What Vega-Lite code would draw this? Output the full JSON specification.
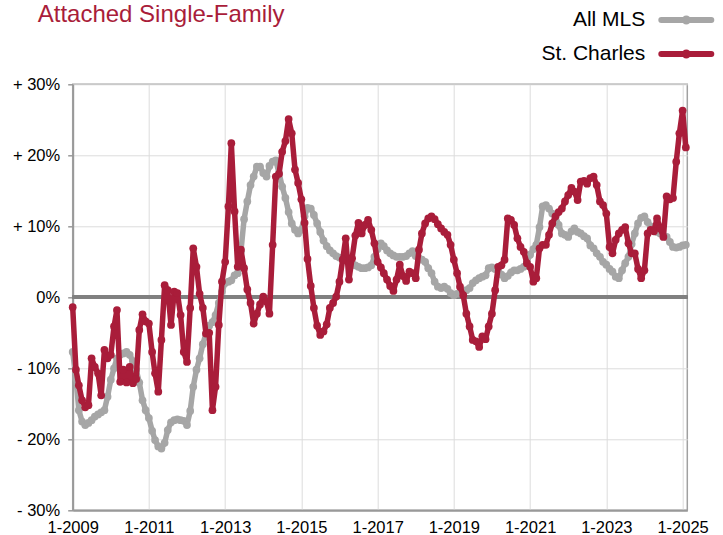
{
  "$schema": "https://vega.github.io/schema/vega-lite/v6.json",
  "width": 614.6,
  "height": 426,
  "autosize": {"type": "none"},
  "padding": {"left": 72.7, "top": 84.3, "right": 35.7, "bottom": 24.7},
  "background": "white",
  "title": {"text": "Attached Single-Family", "anchor": "start", "frame": "group", "dx": -35, "offset": -39, "fontSize": 24, "color": "#A91D3A", "font": "Liberation Sans", "fontWeight": "normal", "baseline": "alphabetic"},
  "config": {
    "view": {"stroke": "#A0A0A0", "strokeWidth": 1.5},
    "font": "Liberation Sans"
  },
  "data": {"values": [
    {"month":"2009-01-01","mls":-7.7,"sc":-1.4},
    {"month":"2009-02-01","mls":-11.4,"sc":-10.2},
    {"month":"2009-03-01","mls":-15.9,"sc":-12.4},
    {"month":"2009-04-01","mls":-17.5,"sc":-14.5},
    {"month":"2009-05-01","mls":-18.0,"sc":-15.5},
    {"month":"2009-06-01","mls":-17.7,"sc":-15.2},
    {"month":"2009-07-01","mls":-17.3,"sc":-8.6},
    {"month":"2009-08-01","mls":-16.8,"sc":-9.8},
    {"month":"2009-09-01","mls":-16.5,"sc":-10.7},
    {"month":"2009-10-01","mls":-16.2,"sc":-13.8},
    {"month":"2009-11-01","mls":-15.9,"sc":-7.4},
    {"month":"2009-12-01","mls":-14.0,"sc":-8.6},
    {"month":"2010-01-01","mls":-11.6,"sc":-8.1},
    {"month":"2010-02-01","mls":-10.0,"sc":-4.1},
    {"month":"2010-03-01","mls":-8.6,"sc":-1.8},
    {"month":"2010-04-01","mls":-8.1,"sc":-11.9},
    {"month":"2010-05-01","mls":-7.9,"sc":-10.2},
    {"month":"2010-06-01","mls":-7.7,"sc":-12.0},
    {"month":"2010-07-01","mls":-8.1,"sc":-9.8},
    {"month":"2010-08-01","mls":-9.0,"sc":-12.1},
    {"month":"2010-09-01","mls":-10.2,"sc":-11.5},
    {"month":"2010-10-01","mls":-12.0,"sc":-4.6},
    {"month":"2010-11-01","mls":-14.5,"sc":-2.4},
    {"month":"2010-12-01","mls":-15.9,"sc":-3.4},
    {"month":"2011-01-01","mls":-17.0,"sc":-3.7},
    {"month":"2011-02-01","mls":-18.8,"sc":-7.7},
    {"month":"2011-03-01","mls":-20.1,"sc":-10.7},
    {"month":"2011-04-01","mls":-21.0,"sc":-13.3},
    {"month":"2011-05-01","mls":-21.3,"sc":-6.0},
    {"month":"2011-06-01","mls":-20.5,"sc":1.7},
    {"month":"2011-07-01","mls":-18.7,"sc":1.0},
    {"month":"2011-08-01","mls":-17.6,"sc":-3.9},
    {"month":"2011-09-01","mls":-17.3,"sc":0.8},
    {"month":"2011-10-01","mls":-17.2,"sc":0.6},
    {"month":"2011-11-01","mls":-17.3,"sc":-2.5},
    {"month":"2011-12-01","mls":-17.4,"sc":-7.7},
    {"month":"2012-01-01","mls":-18.0,"sc":-9.1},
    {"month":"2012-02-01","mls":-16.0,"sc":-1.5},
    {"month":"2012-03-01","mls":-12.6,"sc":6.9},
    {"month":"2012-04-01","mls":-10.2,"sc":4.3},
    {"month":"2012-05-01","mls":-8.6,"sc":0.5},
    {"month":"2012-06-01","mls":-6.6,"sc":-1.5},
    {"month":"2012-07-01","mls":-5.1,"sc":-5.1},
    {"month":"2012-08-01","mls":-4.0,"sc":-5.0},
    {"month":"2012-09-01","mls":-3.5,"sc":-15.9},
    {"month":"2012-10-01","mls":-2.5,"sc":-12.6},
    {"month":"2012-11-01","mls":-0.8,"sc":-3.9},
    {"month":"2012-12-01","mls":0.8,"sc":2.2},
    {"month":"2013-01-01","mls":2.0,"sc":5.0},
    {"month":"2013-02-01","mls":2.2,"sc":12.8},
    {"month":"2013-03-01","mls":2.4,"sc":21.7},
    {"month":"2013-04-01","mls":3.1,"sc":12.1},
    {"month":"2013-05-01","mls":3.4,"sc":4.3},
    {"month":"2013-06-01","mls":6.5,"sc":6.7},
    {"month":"2013-07-01","mls":11.0,"sc":4.1},
    {"month":"2013-08-01","mls":13.5,"sc":1.1},
    {"month":"2013-09-01","mls":15.8,"sc":-0.8},
    {"month":"2013-10-01","mls":17.0,"sc":-3.7},
    {"month":"2013-11-01","mls":18.4,"sc":-2.3},
    {"month":"2013-12-01","mls":18.4,"sc":-1.0},
    {"month":"2014-01-01","mls":17.5,"sc":0.1},
    {"month":"2014-02-01","mls":17.0,"sc":-0.6},
    {"month":"2014-03-01","mls":18.5,"sc":-2.3},
    {"month":"2014-04-01","mls":19.1,"sc":7.4},
    {"month":"2014-05-01","mls":19.3,"sc":17.0},
    {"month":"2014-06-01","mls":17.5,"sc":17.4},
    {"month":"2014-07-01","mls":15.6,"sc":20.5},
    {"month":"2014-08-01","mls":14.0,"sc":22.0},
    {"month":"2014-09-01","mls":12.0,"sc":25.1},
    {"month":"2014-10-01","mls":10.4,"sc":23.1},
    {"month":"2014-11-01","mls":9.5,"sc":18.0},
    {"month":"2014-12-01","mls":9.0,"sc":16.1},
    {"month":"2015-01-01","mls":9.5,"sc":13.8},
    {"month":"2015-02-01","mls":11.4,"sc":10.5},
    {"month":"2015-03-01","mls":12.6,"sc":5.4},
    {"month":"2015-04-01","mls":12.5,"sc":1.6},
    {"month":"2015-05-01","mls":11.6,"sc":-1.5},
    {"month":"2015-06-01","mls":10.4,"sc":-4.0},
    {"month":"2015-07-01","mls":9.2,"sc":-5.3},
    {"month":"2015-08-01","mls":8.0,"sc":-4.8},
    {"month":"2015-09-01","mls":7.2,"sc":-3.8},
    {"month":"2015-10-01","mls":6.6,"sc":-1.5},
    {"month":"2015-11-01","mls":6.2,"sc":-0.8},
    {"month":"2015-12-01","mls":5.8,"sc":0.1},
    {"month":"2016-01-01","mls":5.6,"sc":2.2},
    {"month":"2016-02-01","mls":5.4,"sc":5.3},
    {"month":"2016-03-01","mls":5.3,"sc":8.3},
    {"month":"2016-04-01","mls":5.0,"sc":2.5},
    {"month":"2016-05-01","mls":4.8,"sc":5.5},
    {"month":"2016-06-01","mls":4.5,"sc":8.7},
    {"month":"2016-07-01","mls":4.3,"sc":10.5},
    {"month":"2016-08-01","mls":4.1,"sc":9.0},
    {"month":"2016-09-01","mls":4.1,"sc":10.2},
    {"month":"2016-10-01","mls":4.2,"sc":10.9},
    {"month":"2016-11-01","mls":4.5,"sc":9.5},
    {"month":"2016-12-01","mls":5.7,"sc":7.6},
    {"month":"2017-01-01","mls":6.8,"sc":5.0},
    {"month":"2017-02-01","mls":7.6,"sc":4.2},
    {"month":"2017-03-01","mls":7.2,"sc":3.4},
    {"month":"2017-04-01","mls":6.6,"sc":2.5},
    {"month":"2017-05-01","mls":6.2,"sc":1.6},
    {"month":"2017-06-01","mls":5.9,"sc":0.9},
    {"month":"2017-07-01","mls":5.7,"sc":2.5},
    {"month":"2017-08-01","mls":5.7,"sc":4.6},
    {"month":"2017-09-01","mls":5.7,"sc":3.0},
    {"month":"2017-10-01","mls":5.8,"sc":2.3},
    {"month":"2017-11-01","mls":6.2,"sc":3.6},
    {"month":"2017-12-01","mls":6.5,"sc":3.4},
    {"month":"2018-01-01","mls":5.8,"sc":2.7},
    {"month":"2018-02-01","mls":5.5,"sc":6.7},
    {"month":"2018-03-01","mls":5.3,"sc":9.0},
    {"month":"2018-04-01","mls":5.0,"sc":10.4},
    {"month":"2018-05-01","mls":4.1,"sc":11.1},
    {"month":"2018-06-01","mls":3.4,"sc":11.4},
    {"month":"2018-07-01","mls":2.2,"sc":11.0},
    {"month":"2018-08-01","mls":1.5,"sc":10.3},
    {"month":"2018-09-01","mls":1.3,"sc":9.7},
    {"month":"2018-10-01","mls":1.5,"sc":9.2},
    {"month":"2018-11-01","mls":1.2,"sc":8.8},
    {"month":"2018-12-01","mls":0.6,"sc":7.4},
    {"month":"2019-01-01","mls":0.3,"sc":5.3},
    {"month":"2019-02-01","mls":0.5,"sc":3.4},
    {"month":"2019-03-01","mls":0.6,"sc":1.5},
    {"month":"2019-04-01","mls":0.6,"sc":0.3},
    {"month":"2019-05-01","mls":1.0,"sc":-2.3},
    {"month":"2019-06-01","mls":1.3,"sc":-4.1},
    {"month":"2019-07-01","mls":2.0,"sc":-6.0},
    {"month":"2019-08-01","mls":2.4,"sc":-6.2},
    {"month":"2019-09-01","mls":2.7,"sc":-7.0},
    {"month":"2019-10-01","mls":2.9,"sc":-5.5},
    {"month":"2019-11-01","mls":3.1,"sc":-5.9},
    {"month":"2019-12-01","mls":4.1,"sc":-4.1},
    {"month":"2020-01-01","mls":4.2,"sc":-2.3},
    {"month":"2020-02-01","mls":4.0,"sc":1.0},
    {"month":"2020-03-01","mls":3.8,"sc":4.3},
    {"month":"2020-04-01","mls":3.2,"sc":4.5},
    {"month":"2020-05-01","mls":2.7,"sc":5.3},
    {"month":"2020-06-01","mls":3.0,"sc":11.1},
    {"month":"2020-07-01","mls":3.5,"sc":10.9},
    {"month":"2020-08-01","mls":3.8,"sc":10.2},
    {"month":"2020-09-01","mls":3.8,"sc":8.3},
    {"month":"2020-10-01","mls":4.0,"sc":7.1},
    {"month":"2020-11-01","mls":4.3,"sc":6.4},
    {"month":"2020-12-01","mls":5.0,"sc":4.8},
    {"month":"2021-01-01","mls":6.0,"sc":4.3},
    {"month":"2021-02-01","mls":6.8,"sc":2.2},
    {"month":"2021-03-01","mls":7.4,"sc":2.7},
    {"month":"2021-04-01","mls":9.9,"sc":6.9},
    {"month":"2021-05-01","mls":12.8,"sc":7.4},
    {"month":"2021-06-01","mls":13.0,"sc":7.4},
    {"month":"2021-07-01","mls":12.5,"sc":8.8},
    {"month":"2021-08-01","mls":11.8,"sc":10.4},
    {"month":"2021-09-01","mls":11.4,"sc":11.4},
    {"month":"2021-10-01","mls":10.2,"sc":12.0},
    {"month":"2021-11-01","mls":9.0,"sc":12.5},
    {"month":"2021-12-01","mls":8.8,"sc":13.5},
    {"month":"2022-01-01","mls":8.5,"sc":14.4},
    {"month":"2022-02-01","mls":9.3,"sc":15.4},
    {"month":"2022-03-01","mls":9.7,"sc":14.9},
    {"month":"2022-04-01","mls":9.2,"sc":13.7},
    {"month":"2022-05-01","mls":9.0,"sc":16.3},
    {"month":"2022-06-01","mls":8.6,"sc":16.4},
    {"month":"2022-07-01","mls":8.3,"sc":16.0},
    {"month":"2022-08-01","mls":7.3,"sc":16.8},
    {"month":"2022-09-01","mls":6.9,"sc":17.0},
    {"month":"2022-10-01","mls":6.2,"sc":15.8},
    {"month":"2022-11-01","mls":5.7,"sc":13.5},
    {"month":"2022-12-01","mls":5.0,"sc":13.0},
    {"month":"2023-01-01","mls":4.6,"sc":11.8},
    {"month":"2023-02-01","mls":4.0,"sc":7.1},
    {"month":"2023-03-01","mls":3.6,"sc":6.2},
    {"month":"2023-04-01","mls":2.9,"sc":8.1},
    {"month":"2023-05-01","mls":2.7,"sc":9.0},
    {"month":"2023-06-01","mls":3.8,"sc":9.5},
    {"month":"2023-07-01","mls":4.8,"sc":9.9},
    {"month":"2023-08-01","mls":5.7,"sc":7.6},
    {"month":"2023-09-01","mls":7.5,"sc":6.2},
    {"month":"2023-10-01","mls":9.0,"sc":6.2},
    {"month":"2023-11-01","mls":10.4,"sc":4.0},
    {"month":"2023-12-01","mls":11.2,"sc":2.7},
    {"month":"2024-01-01","mls":11.4,"sc":3.8},
    {"month":"2024-02-01","mls":10.6,"sc":9.0},
    {"month":"2024-03-01","mls":10.0,"sc":9.5},
    {"month":"2024-04-01","mls":9.6,"sc":9.3},
    {"month":"2024-05-01","mls":9.2,"sc":11.1},
    {"month":"2024-06-01","mls":9.0,"sc":9.7},
    {"month":"2024-07-01","mls":8.7,"sc":8.5},
    {"month":"2024-08-01","mls":8.5,"sc":14.2},
    {"month":"2024-09-01","mls":7.8,"sc":13.8},
    {"month":"2024-10-01","mls":7.1,"sc":14.0},
    {"month":"2024-11-01","mls":7.0,"sc":19.1},
    {"month":"2024-12-01","mls":7.1,"sc":23.1},
    {"month":"2025-01-01","mls":7.3,"sc":26.3},
    {"month":"2025-02-01","mls":7.4,"sc":21.1}
  ]},
  "transform": [{"fold": ["mls", "sc"], "as": ["series", "value"]}],
  "layer": [
    {
      "mark": {"type": "rule", "color": "#808080", "strokeWidth": 3},
      "encoding": {"y": {"datum": 0, "type": "quantitative"}}
    },
    {
      "transform": [{"filter": "datum.series == 'mls'"}],
      "mark": {"type": "line", "strokeWidth": 5.5, "strokeJoin": "round", "strokeCap": "round", "point": {"filled": true, "size": 60, "opacity": 1}},
      "encoding": {
        "x": {"field": "month", "type": "temporal"},
        "y": {"field": "value", "type": "quantitative"},
        "color": {"field": "series", "type": "nominal"}
      }
    },
    {
      "transform": [{"filter": "datum.series == 'sc'"}],
      "mark": {"type": "line", "strokeWidth": 5.5, "strokeJoin": "round", "strokeCap": "round", "point": {"filled": true, "size": 60, "opacity": 1}},
      "encoding": {
        "x": {"field": "month", "type": "temporal",
          "scale": {"type": "utc", "domain": [{"year": 2009, "month": 1, "date": 1, "utc": true}, {"year": 2025, "month": 2, "date": 15, "utc": true}]},
          "axis": {
            "title": null,
            "values": [
              {"year": 2009, "month": 1, "date": 1, "utc": true},
              {"year": 2011, "month": 1, "date": 1, "utc": true},
              {"year": 2013, "month": 1, "date": 1, "utc": true},
              {"year": 2015, "month": 1, "date": 1, "utc": true},
              {"year": 2017, "month": 1, "date": 1, "utc": true},
              {"year": 2019, "month": 1, "date": 1, "utc": true},
              {"year": 2021, "month": 1, "date": 1, "utc": true},
              {"year": 2023, "month": 1, "date": 1, "utc": true},
              {"year": 2025, "month": 1, "date": 1, "utc": true}
            ],
            "format": "%-m-%Y",
            "ticks": false,
            "grid": true, "gridColor": "#DCDCDC", "gridWidth": 1,
            "domainColor": "#999999", "domainWidth": 2,
            "labelFont": "Liberation Sans", "labelFontSize": 16.5, "labelColor": "#000000",
            "labelPadding": 9, "labelFlush": false, "labelOverlap": false
          }
        },
        "y": {"field": "value", "type": "quantitative",
          "scale": {"domain": [-30, 30], "nice": false, "zero": false},
          "axis": {
            "title": null,
            "values": [-30, -20, -10, 0, 10, 20, 30],
            "labelExpr": "datum.value > 0 ? '+ ' + datum.value + '%' : (datum.value < 0 ? '- ' + abs(datum.value) + '%' : '0%')",
            "grid": true, "gridColor": "#DCDCDC", "gridWidth": 1,
            "domainColor": "#999999", "domainWidth": 2,
            "ticks": true, "tickColor": "#999999", "tickSize": 5, "tickWidth": 1.5,
            "labelFont": "Liberation Sans", "labelFontSize": 16.5, "labelColor": "#000000",
            "labelPadding": 8
          }
        },
        "color": {"field": "series", "type": "nominal",
          "scale": {"domain": ["mls", "sc"], "range": ["#A6A6A6", "#A91D3A"]},
          "legend": {
            "title": null,
            "orient": "none",
            "legendX": 600.6,
            "legendY": -77.3,
            "direction": "vertical",
            "padding": 0,
            "labelFont": "Liberation Sans",
            "labelFontSize": 21,
            "labelColor": "#000000",
            "labelAlign": "right",
            "labelOffset": -54,
            "labelExpr": "datum.label == 'mls' ? 'All MLS' : 'St. Charles'",
            "symbolType": "M-2.5,0L2.5,0M-0.15,0A0.15,0.15,0,1,1,0.15,0A0.15,0.15,0,1,1,-0.15,0",
            "symbolSize": 400,
            "symbolStrokeWidth": 6,
            "rowPadding": 6,
            "encode": {"symbols": {"update": {
              "stroke": {"scale": "color", "field": "value"},
              "fill": {"value": "transparent"},
              "strokeCap": {"value": "round"},
              "strokeWidth": {"value": 6},
              "opacity": {"value": 1}
            }}}
          }
        }
      }
    }
  ]
}
